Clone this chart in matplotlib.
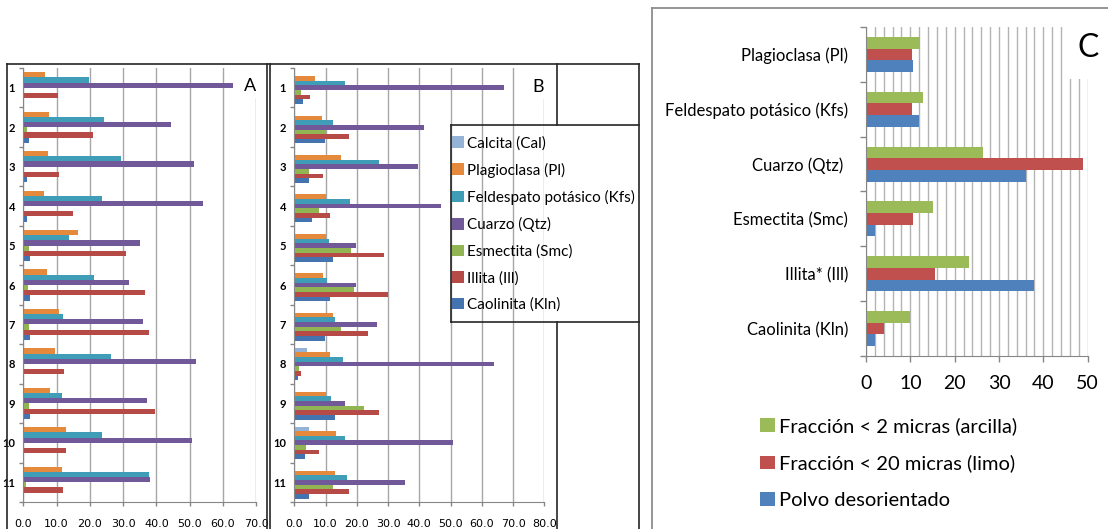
import matplotlib
matplotlib.use("Agg")
import matplotlib.pyplot as plt
from matplotlib.lines import Line2D
from matplotlib.patches import Rectangle, Patch
from matplotlib.ticker import MultipleLocator, FixedLocator, NullFormatter
import numpy as np

plt.rcParams['font.family'] = ['Lato', 'DejaVu Sans']

# ---------------- data ----------------
samples = ['1', '2', '3', '4', '5', '6', '7', '8', '9', '10', '11']

minerals_ab = ['Calcita (Cal)', 'Plagioclasa (Pl)', 'Feldespato potásico (Kfs)',
               'Cuarzo (Qtz)', 'Esmectita (Smc)', 'Illita (Ill)', 'Caolinita (Kln)']

A_plagioclasa = [6.5, 7.8, 7.5, 6.1, 16.5, 7.0, 10.6, 9.6, 8.0, 12.7, 11.5]
A_feldespato = [19.8, 24.2, 29.3, 23.5, 13.7, 21.2, 11.8, 26.3, 11.5, 23.7, 37.8]
A_cuarzo = [63.0, 44.3, 51.4, 54.0, 35.2, 31.9, 36.0, 51.8, 37.3, 50.8, 38.2]
A_esmectita = [0.0, 1.0, 0.0, 0.0, 1.6, 1.5, 1.8, 0.0, 1.8, 0.0, 0.7]
A_illita = [10.5, 21.0, 10.7, 15.0, 30.9, 36.7, 37.9, 12.3, 39.7, 12.7, 11.9]
A_caolinita = [0.0, 1.7, 1.1, 1.2, 2.1, 1.9, 1.9, 0.0, 1.9, 0.0, 0.0]

B_calcita = [0.0, 0.0, 0.0, 0.0, 0.0, 0.0, 0.0, 4.2, 0.0, 4.6, 0.0]
B_plagioclasa = [6.6, 8.9, 14.9, 10.0, 10.1, 9.2, 12.3, 11.3, 10.0, 13.3, 12.9]
B_feldespato = [16.2, 12.4, 27.0, 17.9, 11.2, 10.5, 13.0, 15.6, 11.6, 16.3, 16.9]
B_cuarzo = [67.0, 41.6, 39.5, 47.1, 19.7, 19.7, 26.6, 64.0, 16.2, 50.7, 35.3]
B_esmectita = [2.0, 10.0, 4.6, 7.8, 18.0, 19.1, 15.0, 1.5, 22.2, 3.6, 12.3]
B_illita = [5.1, 17.4, 9.3, 11.5, 28.7, 30.1, 23.5, 2.3, 27.2, 8.0, 17.6]
B_caolinita = [2.9, 9.7, 4.8, 5.7, 12.3, 11.5, 9.8, 1.3, 12.9, 3.5, 4.8]

C_categories = ['Plagioclasa (Pl)', 'Feldespato potásico (Kfs)', 'Cuarzo (Qtz) ',
                'Esmectita (Smc)', 'Illita* (Ill)', 'Caolinita (Kln)']
C_series = ['Fracción < 2 micras (arcilla)', 'Fracción < 20 micras (limo)', 'Polvo desorientado']
C_arcilla = [12.2, 12.8, 26.3, 15.0, 23.3, 9.9]
C_limo = [10.3, 10.3, 49.0, 10.6, 15.6, 4.1]
C_polvo = [10.6, 11.9, 36.0, 2.1, 37.8, 2.1]

# ---------------- style ----------------
col_ab = ['#95B3D7', '#E5893C', '#3F9DB7', '#715999', '#92B553', '#B54A46', '#4474B0']
col_c = ['#9BBB59', '#C0504D', '#4F81BD']
grid_col = '#A6A6A6'
spine_col = '#868686'

W, H = 1108, 529
fig = plt.figure(figsize=(W / 100, H / 100), dpi=100)


def ax_at(x0, y0, x1, y1):
    return fig.add_axes([x0 / W, 1 - y1 / H, (x1 - x0) / W, (y1 - y0) / H])


def fline(xs, ys, color='#262626', lw=1.2):
    fig.add_artist(Line2D([x / W for x in xs], [1 - y / H for y in ys],
                          transform=fig.transFigure, color=color, lw=lw))


def style_ab(ax, xmax, letter, cover_y):
    n = len(samples)
    ax.set_xlim(0, xmax)
    ax.set_ylim(n, 0)
    ax.set_axisbelow(True)
    ax.xaxis.set_major_locator(MultipleLocator(10))
    ax.xaxis.set_major_formatter(plt.FuncFormatter(lambda v, p: f'{v:.1f}'))
    ax.grid(axis='x', color=grid_col, lw=1.0)
    ax.yaxis.set_major_locator(FixedLocator(np.arange(n + 1)))
    ax.yaxis.set_major_formatter(NullFormatter())
    ax.yaxis.set_minor_locator(FixedLocator(np.arange(n) + 0.5))
    ax.set_yticklabels(samples, minor=True, fontweight='bold', fontsize=8)
    ax.tick_params(axis='y', which='major', length=3, color=spine_col, width=1)
    ax.tick_params(axis='y', which='minor', length=0, pad=6)
    ax.tick_params(axis='x', which='major', length=3, color=spine_col, width=1,
                   labelsize=8, pad=9)
    for lab in ax.get_xticklabels():
        lab.set_family(['Liberation Sans Narrow', 'DejaVu Sans'])
    for s in ['top', 'right']:
        ax.spines[s].set_visible(False)
    for s in ['left', 'bottom']:
        ax.spines[s].set_color(spine_col)
    ax.add_patch(Rectangle((xmax - 4.5, 0), 6, cover_y, facecolor='white',
                           edgecolor='none', zorder=0.8, clip_on=False))
    ax.text(xmax - 1.9, cover_y * 0.6, letter, ha='center', va='center',
            fontsize=13, color='black', zorder=5)


def draw_groups(ax, series, colors, bar_h):
    n = len(series)
    pad = (1 - n * bar_h) / 2
    for j, (vals, c) in enumerate(zip(series, colors)):
        ys = np.arange(len(vals)) + pad + (j + 0.5) * bar_h
        ax.barh(ys, vals, height=bar_h, color=c, edgecolor='none', zorder=2)


# ---------------- panel A ----------------
axA = ax_at(23.3, 68, 256.3, 502)
draw_groups(axA, [A_plagioclasa, A_feldespato, A_cuarzo, A_esmectita, A_illita, A_caolinita],
            col_ab[1:], 0.131)
style_ab(axA, 70, 'A', 0.76)

# ---------------- panel B ----------------
axB = ax_at(294.3, 68, 544.3, 502)
draw_groups(axB, [B_calcita, B_plagioclasa, B_feldespato, B_cuarzo, B_esmectita, B_illita, B_caolinita],
            col_ab, 0.118)
style_ab(axB, 80, 'B', 0.79)

# legend B (frame drawn separately)
handles_b = [Patch(facecolor=c, edgecolor='none') for c in col_ab]
fig.legend(handles_b, minerals_ab, loc='upper left',
           bbox_to_anchor=(452 / W, 1 - 136 / H), frameon=False, fontsize=11,
           handlelength=0.8, handleheight=0.8, handletextpad=0.15,
           labelspacing=0.8, borderpad=0, borderaxespad=0)

# frames of panels A/B
fline([7, 639], [64, 64])
fline([7, 7], [64, 529])
fline([267, 267], [64, 529])
fline([269.5, 269.5], [64, 529])
fline([557, 557], [64, 125])
fline([557, 557], [322, 529])
fline([639, 639], [64, 529])
fline([451, 639], [125, 125])
fline([451, 451], [125, 322])
fline([451, 639], [322, 322])

# ---------------- panel C ----------------
axC = ax_at(866, 27, 1087.7, 356)
nC = len(C_categories)
draw_groups(axC, [C_arcilla, C_limo, C_polvo], col_c, 0.213)
axC.set_xlim(0, 50)
axC.set_ylim(nC, 0)
axC.set_axisbelow(True)
axC.xaxis.set_major_locator(MultipleLocator(10))
axC.xaxis.set_minor_locator(MultipleLocator(2))
axC.grid(axis='x', which='both', color='#B3B3B3', lw=1.0)
axC.yaxis.set_major_locator(FixedLocator(np.arange(nC + 1)))
axC.yaxis.set_major_formatter(NullFormatter())
axC.yaxis.set_minor_locator(FixedLocator(np.arange(nC) + 0.5))
axC.set_yticklabels(C_categories, minor=True, fontsize=12)
axC.tick_params(axis='y', which='major', length=4, color=spine_col, width=1)
axC.tick_params(axis='y', which='minor', length=0, pad=13)
axC.tick_params(axis='x', which='major', length=4, color=spine_col, width=1,
                labelsize=14, pad=10)
axC.tick_params(axis='x', which='minor', length=0)
for s in ['top', 'right']:
    axC.spines[s].set_visible(False)
for s in ['left', 'bottom']:
    axC.spines[s].set_color(spine_col)
axC.add_patch(Rectangle((45, 0), 6.5, 0.945, facecolor='white', edgecolor='none',
                        zorder=0.8, clip_on=False))
axC.text(50, 0.38, 'C', ha='center', va='center', fontsize=23, zorder=5)

handles_c = [Patch(facecolor=c, edgecolor='none') for c in col_c]
fig.legend(handles_c, C_series, loc='upper left',
           bbox_to_anchor=(760 / W, 1 - 417 / H), frameon=False, fontsize=14.5,
           handlelength=0.72, handleheight=0.65, handletextpad=0.22,
           labelspacing=0.97, borderpad=0, borderaxespad=0)

fline([652, 1108], [8, 8], color='#8C8C8C', lw=1.3)
fline([652, 652], [8, 529], color='#8C8C8C', lw=1.3)

fig.savefig('out.png', dpi=100)
